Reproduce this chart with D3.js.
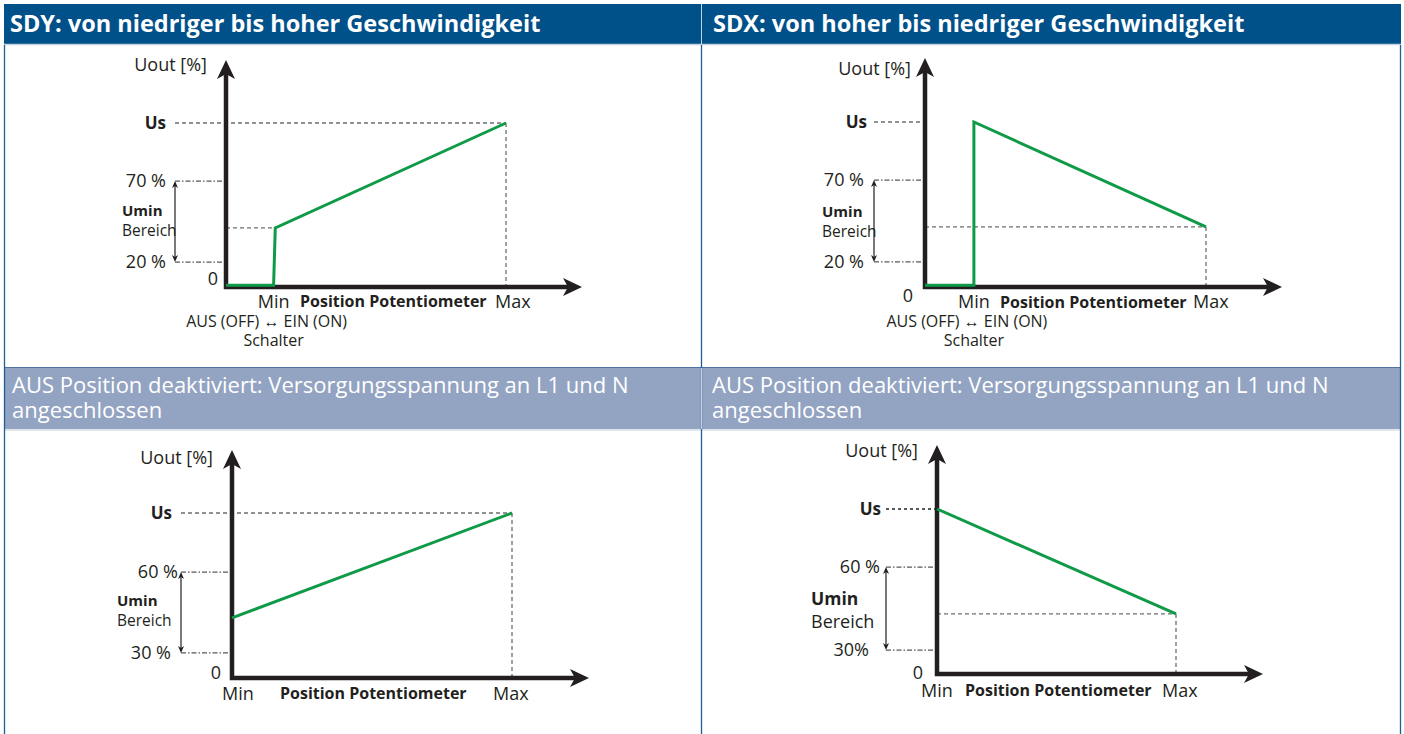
<!DOCTYPE html>
<html>
<head>
<meta charset="utf-8">
<script src="https://cdn.jsdelivr.net/npm/d3@7"></script>
<style>
  body { margin: 0; background: #fff; }
  svg { display: block; font-family: 'Open Sans', sans-serif; }
</style>
</head>
<body>
<div class="canvas"></div>
<script>
// --- text ---
const headers = ['SDY: von niedriger bis hoher Geschwindigkeit', 'SDX: von hoher bis niedriger Geschwindigkeit'];
const subHeaderLines = ['AUS Position deaktiviert: Versorgungsspannung an L1 und N', 'angeschlossen'];
const yTitle = 'Uout [%]';
const xTitle = 'Position Potentiometer';
const rangeLabel = ['Umin', 'Bereich'];
const switchLabel = ['AUS (OFF) \u2194 EIN (ON)', 'Schalter'];

// --- values (y: % of Us as drawn, x: potentiometer position, Max = 100) ---
const sdyTicks = ['Us', '70 %', '20 %'];
const sdyTickValues = [100, 64.6, 15.2];
const sdxTicks = ['Us', '70 %', '20 %'];
const sdxTickValues = [100, 64.8, 15.2];
const sdyFixedTicks = ['Us', '60  %', '30 %'];
const sdyFixedTickValues = [100, 64.2, 15.2];
const sdxFixedTicks = ['Us', '60  %', '30%'];
const sdxFixedTickValues = [100, 64.8, 14.5];

const sdyCurve = [[0, 1], [17, 1], [17.6, 36], [100, 100]];
const sdxCurve = [[0, 1], [17.4, 1], [17.4, 100], [100, 36.4]];
const sdyFixedCurve = [[0, 36.4], [100, 100]];
const sdxFixedCurve = [[0, 100], [100, 36.4]];

const sdyMin = 17;
const sdxMin = 17.4;

// --- layout ---
const width = 1404;
const height = 734;
const green = '#0f9a48';
const ink = '#231f20';
const dashGrey = '#6d6e71';

const panels = [
  { ox: 226, oy: 287, maxX: 506, usY: 123, tipX: 582, tipY: 60,
    ticks: sdyTicks, tickValues: sdyTickValues, tickX: [-60, -60, -60], curve: sdyCurve,
    minAt: sdyMin, usFull: true, midTo: sdyMin, switchAt: true,
    titleX: -19, titleY: -52, umX: -104, umSize: 15, umDy: [-6, 14],
    zeroX: -8, zeroY: -2, minY: 21, xTitleX: 74, xTitleY: 20, maxDx: -11 },
  { ox: 925, oy: 287, maxX: 1206, usY: 122, tipX: 1282, tipY: 58,
    ticks: sdxTicks, tickValues: sdxTickValues, tickX: [-58, -61, -61], curve: sdxCurve,
    minAt: sdxMin, usFull: false, midTo: 100, switchAt: true,
    titleX: -14, titleY: -47, umX: -103, umSize: 15, umDy: [-4, 16],
    zeroX: -12, zeroY: 15, minY: 21, xTitleX: 75, xTitleY: 21, maxDx: -13 },
  { ox: 232, oy: 678, maxX: 512, usY: 513, tipX: 589, tipY: 450,
    ticks: sdyFixedTicks, tickValues: sdyFixedTickValues, tickX: [-60, -54, -61], curve: sdyFixedCurve,
    minAt: 0, usFull: true, midTo: null, switchAt: false,
    titleX: -19, titleY: -49, umX: -115, umSize: 15, umDy: [-6, 14],
    zeroX: -11, zeroY: 1, minY: 22, xTitleX: 48, xTitleY: 21, maxDx: -19, minDx: 6 },
  { ox: 937, oy: 674, maxX: 1176, usY: 509, tipX: 1263, tipY: 445,
    ticks: sdxFixedTicks, tickValues: sdxFixedTickValues, tickX: [-56, -57, -68], curve: sdxFixedCurve,
    minAt: 0, usFull: false, midTo: 100, switchAt: false, usHeavy: true,
    titleX: -19, titleY: -52, umX: -126, umSize: 17.5, umDy: [-4, 19],
    zeroX: -14, zeroY: 5, minY: 23, xTitleX: 28, xTitleY: 22, maxDx: -14, minDx: 0 }
];

const svg = d3.select('.canvas')
  .append('svg')
  .attr('width', width)
  .attr('height', height);

// table frame
svg.append('rect').attr('x', 4).attr('y', 4).attr('width', 1397).attr('height', 40).attr('fill', '#00508a');
svg.append('rect').attr('x', 4).attr('y', 368).attr('width', 1397).attr('height', 61).attr('fill', '#93a3c2');
svg.append('line').attr('x1', 4).attr('x2', 1401).attr('y1', 44.5).attr('y2', 44.5).attr('stroke', '#c7d2e0').attr('stroke-width', 1.5);
svg.append('line').attr('x1', 4).attr('x2', 1401).attr('y1', 367.5).attr('y2', 367.5).attr('stroke', '#4f73a3').attr('stroke-width', 1);
svg.append('line').attr('x1', 4).attr('x2', 1401).attr('y1', 430).attr('y2', 430).attr('stroke', '#e2e5ea').attr('stroke-width', 2);
[4.5, 701.5, 1400.5].forEach(bx => {
  svg.append('line').attr('x1', bx).attr('x2', bx).attr('y1', 45).attr('y2', height)
    .attr('stroke', '#1f5c98').attr('stroke-width', 1.3);
});
svg.append('line').attr('x1', 701.5).attr('x2', 701.5).attr('y1', 4).attr('y2', 44)
  .attr('stroke', '#c7d2e0').attr('stroke-width', 1);
svg.append('line').attr('x1', 701.5).attr('x2', 701.5).attr('y1', 368).attr('y2', 429)
  .attr('stroke', '#c9d1e0').attr('stroke-width', 1);

headers.forEach((h, i) => {
  svg.append('text').attr('x', 10 + i * 703).attr('y', 32)
    .attr('fill', '#fff').attr('font-weight', 700).attr('font-size', 23.5).text(h);
  subHeaderLines.forEach((s, j) => {
    svg.append('text').attr('x', 12 + i * 700).attr('y', 393 + j * 25)
      .attr('fill', '#fff').attr('font-size', 22).text(s);
  });
});

const arrowHead = (g, x, y, angle, len, half, notch) => {
  g.append('path')
    .attr('d', `M0,0 L${half},${len} L0,${len - notch} L${-half},${len} Z`)
    .attr('transform', `translate(${x},${y}) rotate(${angle})`)
    .attr('fill', ink);
};

panels.forEach(p => {
  const x = d3.scaleLinear().domain([0, 100]).range([p.ox, p.maxX]);
  const y = d3.scaleLinear().domain([0, 100]).range([p.oy, p.usY]);
  const g = svg.append('g');
  const leadX = p.ox - 51;
  const [usV, upV, loV] = p.tickValues;

  // dashed guides
  const dashed = (x1, x2, y1, y2) => g.append('line')
    .attr('x1', x1).attr('x2', x2).attr('y1', y1).attr('y2', y2)
    .attr('stroke', dashGrey).attr('stroke-width', 1.3).attr('stroke-dasharray', '4,3');

  if (p.usHeavy) {
    g.append('line').attr('x1', leadX).attr('x2', p.ox).attr('y1', y(usV)).attr('y2', y(usV))
      .attr('stroke', '#58595b').attr('stroke-width', 2.2).attr('stroke-dasharray', '3,3');
  } else {
    dashed(leadX, p.usFull ? x(100) : p.ox, y(usV), y(usV));
  }
  const end = p.curve[p.curve.length - 1];
  dashed(x(100), x(100), y(end[1]), p.oy);
  if (p.midTo !== null) {
    const lvl = p.midTo === 100 ? end[1] : p.curve[2][1];
    dashed(p.ox, x(p.midTo), y(lvl), y(lvl));
  }
  [upV, loV].forEach(v => {
    g.append('line').attr('x1', leadX).attr('x2', p.ox).attr('y1', y(v)).attr('y2', y(v))
      .attr('stroke', '#58595b').attr('stroke-width', 1.3).attr('stroke-dasharray', '5,2,1.5,2');
  });

  // Umin range double arrow
  g.append('line').attr('x1', leadX).attr('x2', leadX).attr('y1', y(upV) + 4).attr('y2', y(loV) - 4)
    .attr('stroke', ink).attr('stroke-width', 1.2);
  arrowHead(g, leadX, y(upV), 0, 7, 3, 2);
  arrowHead(g, leadX, y(loV), 180, 7, 3, 2);

  // axes
  g.append('path')
    .attr('d', `M${p.ox},${p.tipY + 12} L${p.ox},${p.oy} L${p.tipX - 12},${p.oy}`)
    .attr('fill', 'none').attr('stroke', ink).attr('stroke-width', 4.5)
    .attr('stroke-linejoin', 'miter');
  arrowHead(g, p.ox, p.tipY, 0, 19, 9, 5);
  arrowHead(g, p.tipX, p.oy, 90, 19, 9, 5);

  // output curve
  const line = d3.line().x(d => x(d[0])).y(d => y(d[1]));
  g.append('path').datum(p.curve)
    .attr('d', line)
    .attr('fill', 'none').attr('stroke', green).attr('stroke-width', 3)
    .attr('stroke-linejoin', 'miter');

  // labels
  const text = (tx, ty, s, size, opts = {}) => g.append('text')
    .attr('x', tx).attr('y', ty).attr('font-size', size)
    .attr('font-weight', opts.bold ? 700 : 400)
    .attr('text-anchor', opts.anchor || 'start')
    .attr('fill', ink).text(s);

  text(p.ox + p.titleX, p.usY + p.titleY, yTitle, 18, { anchor: 'end' });
  p.ticks.forEach((t, i) => {
    text(p.ox + p.tickX[i], y(p.tickValues[i]) + 6, t, i === 0 ? 17 : 18, { anchor: 'end', bold: i === 0 });
  });
  const mid = (y(upV) + y(loV)) / 2;
  text(p.ox + p.umX, mid + p.umDy[0], rangeLabel[0], p.umSize, { bold: true });
  text(p.ox + p.umX, mid + p.umDy[1], rangeLabel[1], p.umSize + 0.5);
  text(p.ox + p.zeroX, p.oy + p.zeroY, '0', 18, { anchor: 'end' });

  const minCx = p.switchAt ? x(p.minAt) : p.ox + p.minDx;
  text(minCx, p.oy + p.minY, 'Min', 18, { anchor: 'middle' });
  text(p.ox + p.xTitleX, p.oy + p.xTitleY, xTitle, 16, { bold: true });
  text(p.maxX + p.maxDx, p.oy + p.minY, 'Max', 18);
  if (p.switchAt) {
    text(minCx - 7, p.oy + 40, switchLabel[0], 16, { anchor: 'middle' });
    text(minCx, p.oy + 59, switchLabel[1], 16, { anchor: 'middle' });
  }
});
</script>
</body>
</html>
